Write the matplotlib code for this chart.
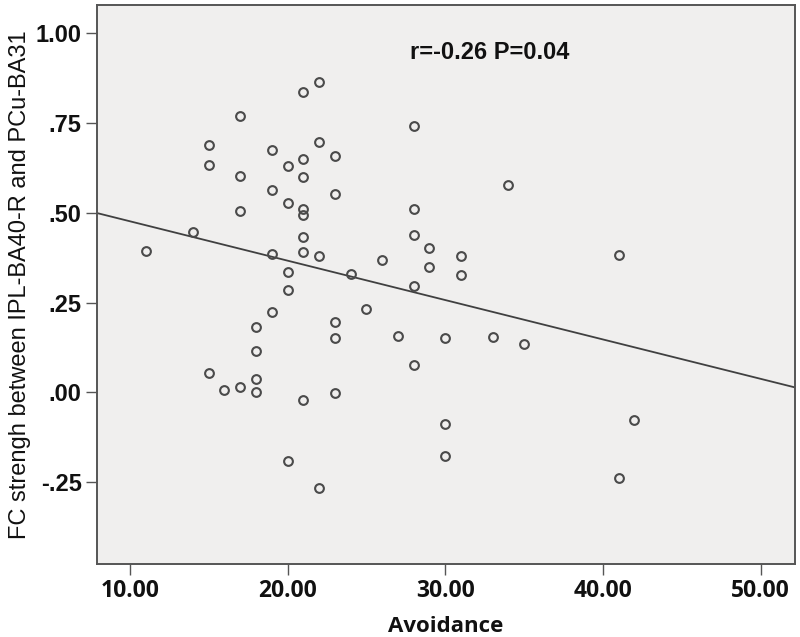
import numpy as np
import matplotlib
matplotlib.use('Agg')
import matplotlib.pyplot as plt

plt.rcParams['font.family'] = ['Liberation Sans', 'DejaVu Sans']

# Avoidance score and FC strength
avoidance = [11, 14, 15, 15, 15, 16, 17, 17, 17, 17,
             18, 18, 18, 18, 19, 19, 19, 19, 20, 20,
             20, 20, 20, 21, 21, 21, 21, 21, 21, 21,
             21, 22, 22, 22, 22, 23, 23, 23, 23, 23,
             24, 25, 26, 27, 28, 28, 28, 28, 28, 29,
             29, 30, 30, 30, 31, 31, 33, 34, 35, 41,
             41, 42]
fc_strength = [0.394, 0.447, 0.690, 0.633, 0.055, 0.006, 0.770, 0.602, 0.504, 0.015,
               0.181, 0.115, 0.037, 0.001, 0.675, 0.563, 0.385, 0.225, 0.630, 0.529,
               0.336, 0.285, -0.190, 0.837, 0.650, 0.600, 0.510, 0.494, 0.432, 0.390,
               -0.020, 0.866, 0.697, 0.381, -0.267, 0.659, 0.554, 0.195, 0.152, -0.003,
               0.329, 0.231, 0.370, 0.158, 0.742, 0.510, 0.438, 0.297, 0.075, 0.401,
               0.350, 0.152, -0.088, -0.177, 0.381, 0.326, 0.155, 0.577, 0.134, 0.382,
               -0.238, -0.077]

xticks = [10, 20, 30, 40, 50]
yticks = [-0.25, 0.0, 0.25, 0.50, 0.75, 1.00]
ytick_labels = ['-.25', '.00', '.25', '.50', '.75', '1.00']
annot = 'r=-0.26 P=0.04'

x = np.array(avoidance, dtype=float)
y = np.array(fc_strength)
slope, intercept = np.polyfit(x, y, 1)

fig = plt.figure(figsize=(8, 6.37), dpi=100)
ax = fig.add_axes([0.121, 0.1146, 0.873, 0.8774])
ax.set_facecolor('#f0efee')

xlim = (7.9, 52.2)
ax.set_xlim(xlim)
ax.set_ylim(-0.478, 1.079)

xs = np.array(xlim)
ax.plot(xs, intercept + slope * xs, color='#404040', linewidth=1.3, zorder=2)
ax.plot(x, y, 'o', markerfacecolor='none', markeredgecolor='#4a4a4a',
        markersize=6.3, markeredgewidth=1.5, zorder=3)

ax.text(32.8, 0.948, annot, ha='center', va='center',
        fontsize=17, fontweight='bold', color='#111111')

ax.set_xticks(xticks)
ax.set_xticklabels(['%.2f' % t for t in xticks])
ax.set_yticks(yticks)
ax.set_yticklabels(ytick_labels)
for lab in ax.get_xticklabels():
    lab.set_family(['Open Sans', 'DejaVu Sans'])
    lab.set_fontweight('bold')
    lab.set_fontsize(16.5)
    lab.set_color('#111111')
for lab in ax.get_yticklabels():
    lab.set_fontweight('bold')
    lab.set_fontsize(17)
    lab.set_color('#111111')
ax.tick_params(direction='out', length=8, width=1, color='#555555', pad=3)

for s in ax.spines.values():
    s.set_color('#555555')
    s.set_linewidth(1.4)

ax.set_xlabel('Avoidance', fontsize=16, fontweight='bold',
              family=['Open Sans', 'DejaVu Sans'], color='#111111', labelpad=9)
ax.set_ylabel('FC strengh between IPL-BA40-R and PCu-BA31', fontsize=17,
              color='#111111', labelpad=3)

fig.savefig('out.png', dpi=100)
